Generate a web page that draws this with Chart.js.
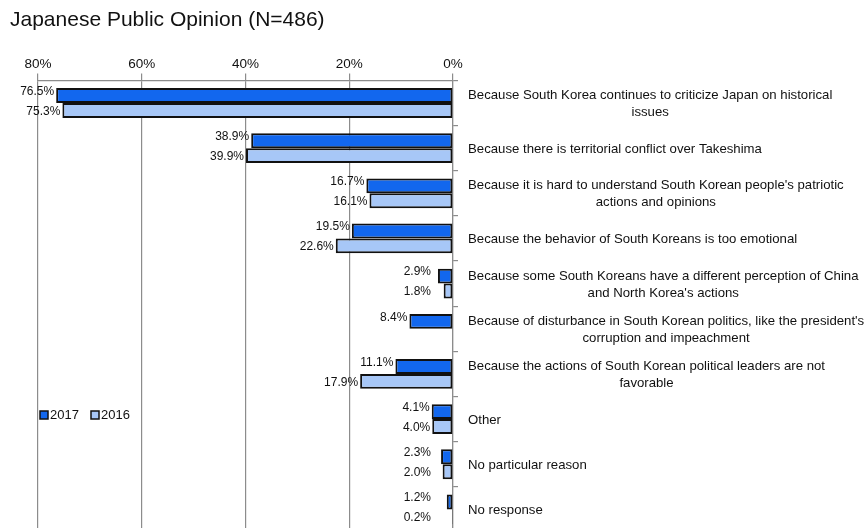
<!DOCTYPE html>
<html>
<head>
<meta charset="utf-8">
<script src="https://cdn.jsdelivr.net/npm/chart.js@4"></script>
<style>
  html, body { margin: 0; padding: 0; background: #fff; overflow: hidden; }
  #wrap { position: relative; width: 868px; height: 540px; }
</style>
</head>
<body>
<div id="wrap"><canvas id="reasonChart"></canvas></div>
<script>
const categories = [
  ["Because South Korea continues to criticize Japan on historical", "issues"],
  ["Because there is territorial conflict over Takeshima"],
  ["Because it is hard to understand South Korean people's patriotic", "actions and opinions"],
  ["Because the behavior of South Koreans is too emotional"],
  ["Because some South Koreans have a different perception of China", "and North Korea's actions"],
  ["Because of disturbance in South Korean politics, like the president's", "corruption and impeachment"],
  ["Because the actions of South Korean political leaders are not", "favorable"],
  ["Other"],
  ["No particular reason"],
  ["No response"]
];
const values2017 = [76.5, 38.9, 16.7, 19.5, 2.9, 8.4, 11.1, 4.1, 2.3, 1.2];
const values2016 = [75.3, 39.9, 16.1, 22.6, 1.8, null, 17.9, 4.0, 2.0, 0.2];
const xTicks = [0, 20, 40, 60, 80];

const FONT = "'Liberation Sans', Arial, Helvetica, sans-serif";
const TEXT = "#111";
const GRID = "#8c8c8c";

// value labels to the left of each bar end
const valueLabels = {
  id: "valueLabels",
  afterDatasetsDraw(chart) {
    const ctx = chart.ctx;
    const zeroX = chart.scales.x.getPixelForValue(0);
    ctx.save();
    ctx.font = "12px " + FONT;
    ctx.fillStyle = TEXT;
    ctx.textAlign = "right";
    ctx.textBaseline = "middle";
    chart.data.datasets.forEach((ds, di) => {
      chart.getDatasetMeta(di).data.forEach((bar, i) => {
        const v = ds.data[i];
        if (v === null) return;
        const x = Math.min(bar.x - 2, zeroX - 22);
        const y = bar.y + (di === 0 ? -4 : 1);
        ctx.fillText(v.toFixed(1) + "%", x, y);
      });
    });
    ctx.restore();
  }
};

// category text on the right, each block left aligned with centred lines
const categoryText = {
  id: "categoryText",
  afterDraw(chart) {
    const ctx = chart.ctx;
    const yScale = chart.scales.y;
    const left = chart.chartArea.right + 15;
    const lineH = 17;
    ctx.save();
    ctx.font = "13.2px " + FONT;
    ctx.fillStyle = TEXT;
    ctx.textAlign = "center";
    ctx.textBaseline = "middle";
    categories.forEach((lines, i) => {
      const w = Math.max(...lines.map(l => ctx.measureText(l).width));
      const cx = left + w / 2;
      const cy = yScale.getPixelForValue(i) + 1;
      const top = cy - (lines.length - 1) * lineH / 2;
      lines.forEach((l, k) => ctx.fillText(l, cx, top + k * lineH));
    });
    ctx.restore();
  }
};

// small legend sitting inside the plot
const insideLegend = {
  id: "insideLegend",
  afterDraw(chart) {
    const ctx = chart.ctx;
    let x = 40;
    const y = 415;
    ctx.save();
    ctx.font = "13px " + FONT;
    ctx.textBaseline = "middle";
    ctx.textAlign = "left";
    chart.data.datasets.forEach(ds => {
      ctx.fillStyle = ds.backgroundColor;
      ctx.fillRect(x, y - 4, 8, 8);
      ctx.strokeStyle = "#111";
      ctx.lineWidth = 1.5;
      ctx.strokeRect(x, y - 4, 8, 8);
      ctx.fillStyle = TEXT;
      ctx.fillText(ds.label, x + 10, y);
      x += 51;
    });
    ctx.restore();
  }
};

const ctx = document.getElementById("reasonChart").getContext("2d");
new Chart(ctx, {
  type: "bar",
  data: {
    labels: categories,
    datasets: [
      {
        label: "2017",
        data: values2017,
        backgroundColor: "#1267ee",
        borderColor: "#111",
        borderWidth: 2,
        borderSkipped: false
      },
      {
        label: "2016",
        data: values2016,
        backgroundColor: "#a7c7f7",
        borderColor: "#111",
        borderWidth: 2,
        borderSkipped: false
      }
    ]
  },
  options: {
    indexAxis: "y",
    responsive: true,
    maintainAspectRatio: false,
    animation: false,
    datasets: {
      bar: { categoryPercentage: 0.66, barPercentage: 1.0 }
    },
    layout: { padding: { left: 10, right: 0, top: 0, bottom: 8 } },
    scales: {
      x: {
        position: "top",
        reverse: true,
        min: 0,
        max: 80,
        afterBuildTicks: (scale) => { scale.ticks = xTicks.map(v => ({ value: v })); },
        afterFit: (scale) => { scale.paddingLeft = 38; },
        ticks: {
          callback: (v) => v + "%",
          color: TEXT,
          font: { size: 13.5, family: FONT },
          padding: 1,
          maxRotation: 0
        },
        grid: { color: GRID, lineWidth: 1.2, tickLength: 7 },
        border: { color: GRID, width: 1.2 }
      },
      y: {
        position: "right",
        ticks: { display: false },
        afterFit: (scale) => { scale.width = 415; },
        grid: { drawOnChartArea: false, color: GRID, lineWidth: 1.2, tickLength: 5 },
        border: { color: GRID, width: 1.2 }
      }
    },
    plugins: {
      legend: { display: false },
      tooltip: { enabled: false },
      title: {
        display: true,
        text: "Japanese Public Opinion (N=486)",
        align: "start",
        color: TEXT,
        font: { size: 21, family: FONT, weight: "normal" },
        padding: { top: 8, bottom: 22 }
      }
    }
  },
  plugins: [valueLabels, categoryText, insideLegend]
});
</script>
</body>
</html>
